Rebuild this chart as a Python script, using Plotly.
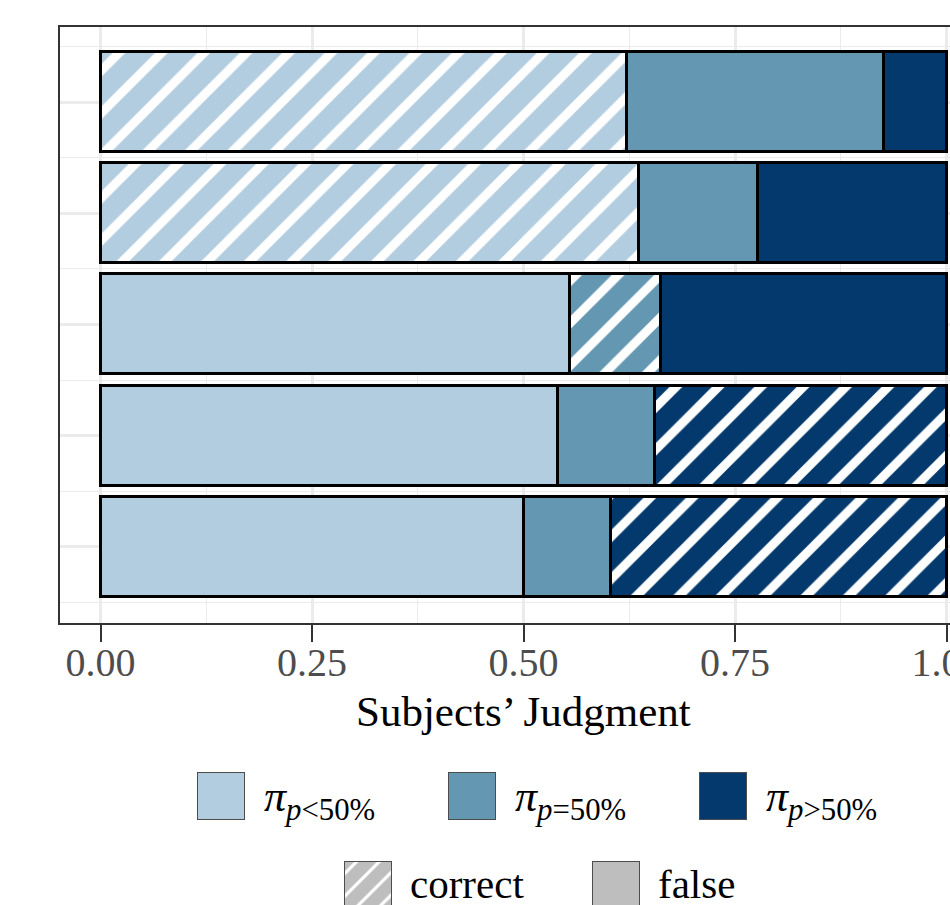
import plotly.graph_objects as go

# ---------------- data ----------------
rows = ["Row 1", "Row 2", "Row 3", "Row 4", "Row 5"]          # top to bottom
row_pos = [5, 4, 3, 2, 1]
categories = ["p<50%", "p=50%", "p>50%"]
share_lt50 = [0.622, 0.636, 0.555, 0.541, 0.501]
share_eq50 = [0.304, 0.141, 0.108, 0.114, 0.102]
share_gt50 = [0.074, 0.223, 0.337, 0.345, 0.397]
correct_cat = ["p<50%", "p<50%", "p=50%", "p>50%", "p>50%"]
x_ticks = [0, 0.25, 0.5, 0.75, 1.0]
x_tick_labels = ["0.00", "0.25", "0.50", "0.75", "1.00"]

colors = {"p<50%": "#B3CDE0", "p=50%": "#6497B1", "p>50%": "#03396C"}
legend_labels = {
    "p<50%": "<i>π</i><sub><i>p</i>&lt;50%</sub>",
    "p=50%": "<i>π</i><sub><i>p</i>=50%</sub>",
    "p>50%": "<i>π</i><sub><i>p</i>&gt;50%</sub>",
}
FONT = "Liberation Serif"

# ---------------- geometry (pixels) ----------------
W, H = 950, 905
X0_PX, PPU = 100.5, 846.0          # pixel of x=0, pixels per unit
PANEL_L, PANEL_T, PANEL_B = 60, 27, 622.7
ROW1_PX, ROW_STEP = 102.0, 111.2

xr = [(PANEL_L - X0_PX) / PPU, (W - X0_PX) / PPU]
yr = [5 - (PANEL_B - ROW1_PX) / ROW_STEP, 5 + (ROW1_PX - PANEL_T) / ROW_STEP]


def py(px):
    return 1 - px / H


def pxx(px):
    return px / W


fig = go.Figure()

series = {"p<50%": share_lt50, "p=50%": share_eq50, "p>50%": share_gt50}
for cat in categories:
    fig.add_trace(go.Bar(
        y=row_pos, x=series[cat], orientation="h", width=0.9,
        marker=dict(
            color=colors[cat],
            line=dict(color="black", width=3),
            pattern=dict(
                shape=["/" if c == cat else "" for c in correct_cat],
                fillmode="replace", bgcolor=colors[cat], fgcolor="white",
                size=30, solidity=0.3,
            ),
        ),
        showlegend=False, hoverinfo="skip",
    ))

# ---------------- legend drawn on a hidden helper axis ----------------
leg_row1_top, leg_row2_top, sw = 773, 862.3, 47
leg1_x = [198.3, 449.0, 700.0]
leg2_x = [345.0, 593.3]
for cat, lx in zip(categories, leg1_x):
    fig.add_trace(go.Bar(
        x=[lx + sw / 2], y=[sw], base=[leg_row1_top], width=[sw],
        xaxis="x2", yaxis="y2",
        marker=dict(color=colors[cat], line=dict(color="#4d4d4d", width=1.5)),
        showlegend=False, hoverinfo="skip",
    ))
    fig.add_annotation(
        text=legend_labels[cat], xref="paper", yref="paper",
        x=pxx(lx + sw + 17), y=py(leg_row1_top + sw / 2 + 3),
        xanchor="left", yanchor="middle", showarrow=False,
        font=dict(family=FONT, size=44, color="black"),
    )

gray = "#BEBEBE"
for lab, lx, hatch in zip(["correct", "false"], leg2_x, ["/", ""]):
    fig.add_trace(go.Bar(
        x=[lx + sw / 2], y=[sw], base=[leg_row2_top], width=[sw],
        xaxis="x2", yaxis="y2",
        marker=dict(color=gray, line=dict(color="#4d4d4d", width=1.5),
                    pattern=dict(shape=hatch, fillmode="replace", bgcolor=gray,
                                 fgcolor="white", size=16, solidity=0.2)),
        showlegend=False, hoverinfo="skip",
    ))
    fig.add_annotation(
        text=lab, xref="paper", yref="paper",
        x=pxx(lx + sw + 16), y=py(leg_row2_top + sw / 2 - 2),
        xanchor="left", yanchor="middle", showarrow=False,
        font=dict(family=FONT, size=41, color="black"),
    )

# axis title
fig.add_annotation(
    text="Subjects’ Judgment", xref="x", yref="paper", x=0.5, y=py(711),
    xanchor="center", yanchor="middle", showarrow=False,
    font=dict(family=FONT, size=43, color="black"),
)

grid = "#EBEBEB"
fig.update_layout(
    template="none",
    width=W, height=H, autosize=False, margin=dict(l=0, r=0, t=0, b=0, pad=0),
    paper_bgcolor="white", plot_bgcolor="white",
    barmode="stack", bargap=0, showlegend=False,
    xaxis=dict(
        domain=[pxx(PANEL_L), 1], range=xr, anchor="y", automargin=False,
        tickvals=x_ticks, ticktext=x_tick_labels,
        ticks="outside", ticklen=17, tickwidth=2, tickcolor="#333333",
        tickfont=dict(family=FONT, size=40, color="#4D4D4D"),
        ticklabeloverflow="allow", ticklabelstandoff=-14,
        showgrid=True, gridcolor=grid, gridwidth=2.5,
        minor=dict(dtick=0.125, tick0=0, showgrid=True, gridcolor=grid, gridwidth=1.3),
        showline=True, mirror=True, linecolor="#333333", linewidth=2,
        zeroline=False, fixedrange=True,
    ),
    yaxis=dict(
        domain=[py(PANEL_B), py(PANEL_T)], range=yr, anchor="x", automargin=False,
        tickmode="linear", tick0=0, dtick=1, showticklabels=False, ticks="",
        showgrid=True, gridcolor=grid, gridwidth=2.5,
        minor=dict(dtick=1, tick0=0.5, showgrid=True, gridcolor=grid, gridwidth=1.3),
        showline=True, mirror=False, linecolor="#333333", linewidth=2,
        zeroline=False, fixedrange=True,
    ),
    xaxis2=dict(domain=[0, 1], range=[0, W], visible=False, anchor="y2",
                automargin=False, fixedrange=True),
    yaxis2=dict(domain=[0, py(630)], range=[H, 630], visible=False, anchor="x2",
                automargin=False, fixedrange=True),
)

fig.write_html(
    "out.html",
    config={"responsive": False, "displayModeBar": False},
    post_script="document.body.style.margin='0';document.body.style.overflow='hidden';",
)
